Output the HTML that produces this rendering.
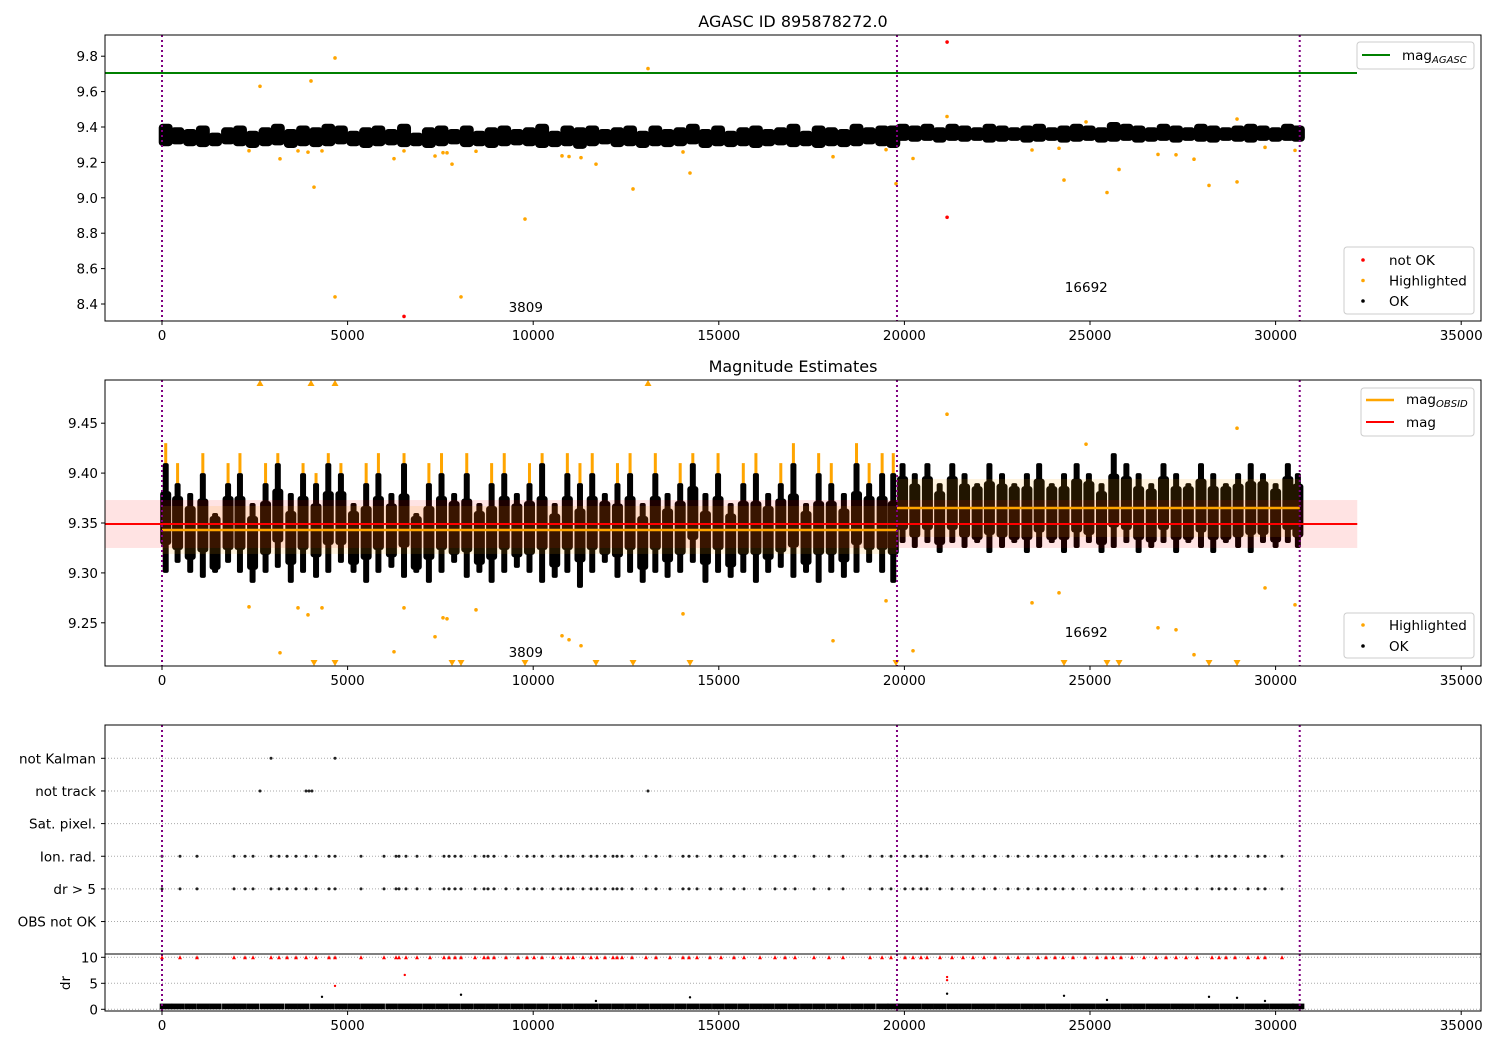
<!DOCTYPE html>
<html><head><meta charset="utf-8"><style>
body{margin:0;background:#fff}
svg text{font-family:"DejaVu Sans","Liberation Sans",sans-serif;fill:#000}
</style></head><body>
<svg id="c" width="1500" height="1050" xmlns="http://www.w3.org/2000/svg"></svg>
<script>
// ---- data ----
const obsX=[100,420,760,1100,1430,1780,2100,2440,2790,3120,3470,3800,4150,4480,4820,5160,5500,5830,6180,6520,6850,7190,7530,7870,8210,8550,8880,9220,9560,9900,10240,10580,10920,11260,11590,11930,12270,12610,12950,13290,13620,13960,14300,14640,14980,15320,15660,16000,16330,16670,17010,17350,17690,18030,18370,18710,19050,19400,19700,
19950,20280,20620,20950,21290,21620,21960,22290,22630,22960,23300,23630,23970,24300,24640,24970,25310,25640,25980,26310,26650,26980,27320,27650,27990,28320,28660,28990,29330,29660,30000,30330,30600];
const obsHi=[9.41,9.39,9.38,9.40,9.36,9.39,9.40,9.37,9.39,9.41,9.38,9.40,9.39,9.41,9.40,9.37,9.39,9.40,9.38,9.41,9.36,9.39,9.40,9.38,9.40,9.37,9.39,9.40,9.38,9.39,9.41,9.37,9.40,9.39,9.40,9.38,9.39,9.40,9.37,9.40,9.38,9.39,9.41,9.38,9.40,9.37,9.39,9.40,9.38,9.39,9.41,9.37,9.40,9.39,9.38,9.41,9.39,9.40,9.40,
9.41,9.40,9.41,9.39,9.41,9.40,9.39,9.41,9.40,9.39,9.40,9.41,9.39,9.40,9.41,9.40,9.39,9.42,9.41,9.40,9.39,9.41,9.40,9.39,9.41,9.40,9.39,9.40,9.41,9.40,9.39,9.41,9.40];
const obsLo=[9.30,9.31,9.30,9.295,9.30,9.31,9.30,9.29,9.30,9.305,9.29,9.30,9.295,9.30,9.31,9.30,9.29,9.30,9.305,9.295,9.30,9.29,9.30,9.31,9.295,9.30,9.29,9.30,9.305,9.30,9.29,9.295,9.30,9.285,9.30,9.31,9.295,9.30,9.29,9.30,9.295,9.30,9.31,9.29,9.30,9.295,9.30,9.29,9.30,9.305,9.295,9.30,9.29,9.30,9.295,9.30,9.31,9.30,9.29,
9.33,9.325,9.33,9.32,9.33,9.325,9.33,9.32,9.325,9.33,9.32,9.325,9.33,9.32,9.325,9.33,9.32,9.325,9.33,9.32,9.325,9.33,9.32,9.33,9.325,9.32,9.33,9.325,9.32,9.33,9.325,9.33,9.325];
const hlTop=[9.43,9.41,0,9.42,0,9.41,9.42,0,9.41,9.42,0,9.41,9.40,9.42,9.41,0,9.41,9.42,0,9.42,0,9.41,9.42,0,9.42,0,9.41,9.42,0,9.41,9.42,0,9.42,9.41,9.42,0,9.41,9.42,0,9.42,0,9.41,9.42,0,9.42,0,9.41,9.42,0,9.41,9.43,0,9.42,9.41,0,9.43,9.41,9.42,9.42];
const hlX=[2344,3179,3664,3933,4310,6250,6519,7355,7570,7678,8459,10776,10965,11288,14036,18077,19505,20232,23438,24165,26832,27317,27802,29715,30523,21148,24893,28961,2640,4014,4661,13093,4095,4661,7813,8055,9779,11692,12689,14224,19774,24300,25458,25782,28206,28961];
const hlMag=[9.266,9.220,9.265,9.258,9.265,9.221,9.265,9.236,9.255,9.254,9.263,9.237,9.233,9.227,9.259,9.232,9.272,9.222,9.270,9.280,9.245,9.243,9.218,9.285,9.268,9.459,9.429,9.445,9.63,9.66,9.79,9.73,9.06,8.44,9.19,8.44,8.88,9.19,9.05,9.14,9.08,9.10,9.03,9.16,9.07,9.09];
const badX=[21150,21150,6520];
const badMag=[9.88,8.89,8.33];
const segStart=[0,19800];
const segEnd=[19800,30650];
const segMag=[9.343,9.365];
const segStd=[0.024,0.029];
const magAll=9.349, magStd=0.024, magAgasc=9.705;
const flagNames=["not Kalman","not track","Sat. pixel.","Ion. rad.","dr > 5","OBS not OK"];
const notKalmanX=[2937,4661];
const notTrackX=[2640,3880,3960,4040,13093];
const ionX=[0,485,943,1940,2236,2452,2937,3152,3368,3610,3880,4149,4499,4661,5361,5981,6304,6385,6573,6870,7220,7597,7732,7893,8055,8432,8675,8782,8944,9267,9591,9833,10022,10237,10533,10749,10937,11072,11341,11557,11719,11934,12150,12258,12392,12662,13039,13308,13685,14035,14197,14413,14763,15059,15409,15679,16110,16514,16784,17053,17565,17969,18346,19074,19397,19639,20016,20232,20447,20609,20959,21283,21579,21848,22145,22441,22791,23061,23330,23599,23815,24057,24273,24542,24866,25189,25431,25620,25835,26131,26455,26778,27048,27317,27587,27883,28287,28476,28664,28906,29257,29526,29714,30172];
const drOutX=[4310,8055,11690,14224,21150,24300,25458,28206,28961,29714];
const drOutV=[2.4,2.8,1.6,2.3,3.0,2.6,1.8,2.4,2.2,1.6];
const drRedX=[4661,6540,21150,21150];
const drRedV=[4.5,6.6,5.6,6.2];
const drTypical=1.1;
const xTicks=[0,5000,10000,15000,20000,25000,30000,35000];
const y1Ticks=[8.4,8.6,8.8,9.0,9.2,9.4,9.6,9.8];
const y2Ticks=[9.25,9.30,9.35,9.40,9.45];
const drTicks=[0,5,10];
const annX=[9800,24900], annText=["3809","16692"];

// ---- scales ----
const L=105,R=1481;
const xs=u=>162+u*185.6/5000;
const y1=m=>127-(m-9.4)*177;
const y2=m=>523-(m-9.35)*998;
const yf=i=>758.3+i*32.65;
const yd=v=>1009.3-v*5.2;
const svg=document.getElementById('c');
const NS="http://www.w3.org/2000/svg";
function mk(tag,at,parent){const e=document.createElementNS(NS,tag);for(const k in at)e.setAttribute(k,at[k]);(parent||svg).appendChild(e);return e;}
function txt(x,y,s,size,anchor,parent){const t=mk('text',{x:x,y:y,'font-size':size||13.5,'text-anchor':anchor||'middle'},parent);t.textContent=s;return t;}
function clip(id,t,b){const d=mk('defs',{});const c=mk('clipPath',{id:id},d);mk('rect',{x:L,y:t,width:R-L,height:b-t},c);}
clip('c1',35,321);clip('c2',380,666);clip('c3',725,954);clip('c4',954,1011);

function xAxis(by,g){for(const v of xTicks){const x=xs(v);mk('line',{x1:x,x2:x,y1:by,y2:by+4,stroke:'#000'},g);const t=txt(x,by+19,String(v),13.5,'middle',g);}}
function vlines(t,b,g){for(const v of [0,segEnd[0],segEnd[1]]){mk('line',{x1:xs(v),x2:xs(v),y1:t,y2:b,stroke:'purple','stroke-width':2,'stroke-dasharray':'2,3'},g);}}

// ===== Panel 1 =====
const p1=mk('g',{});
const t1=txt(793,27,'AGASC ID 895878272.0',16,'middle',p1);
const d1=mk('g',{'clip-path':'url(#c1)'},p1);
mk('line',{x1:L,x2:1357,y1:y1(magAgasc),y2:y1(magAgasc),stroke:'green','stroke-width':2},d1);
obsX.forEach((u,i)=>{const r=mk('rect',{x:xs(u)-7,y:y1(obsHi[i])-1.5,width:14,height:y1(obsLo[i])-y1(obsHi[i])+3,rx:4,fill:'#000'},d1);});
hlX.forEach((u,i)=>{const c=mk('circle',{cx:xs(u),cy:y1(hlMag[i]),r:1.8,fill:'orange'},d1);});
badX.forEach((u,i)=>{const c=mk('circle',{cx:xs(u),cy:y1(badMag[i]),r:1.8,fill:'red'},d1);});
vlines(35,321,d1);
annX.forEach((u,i)=>{txt(xs(u),312-(i?20:0),annText[i],13.5,'middle',d1);});
mk('rect',{x:L,y:35,width:R-L,height:286,fill:'none',stroke:'#000'},p1);
for(const v of y1Ticks){const y=y1(v);mk('line',{x1:L-4,x2:L,y1:y,y2:y,stroke:'#000'},p1);txt(L-7,y+5,v.toFixed(1),13.5,'end',p1);}
xAxis(321,p1);
const lg1=mk('g',{},p1);
mk('rect',{x:1357,y:42,width:117,height:27,rx:3,fill:'#fff',stroke:'#ccc'},lg1);
mk('line',{x1:1362,x2:1390,y1:55,y2:55,stroke:'green','stroke-width':2},lg1);
const lt=txt(1402,60,'mag',13.5,'start',lg1);const ts=mk('tspan',{'font-size':10,'font-style':'italic',dy:3},lt);ts.textContent='AGASC';
const lg2=mk('g',{},p1);
mk('rect',{x:1344,y:247,width:130,height:67,rx:3,fill:'#fff',stroke:'#ccc'},lg2);
[['red','not OK'],['orange','Highlighted'],['#000','OK']].forEach((e,i)=>{mk('circle',{cx:1363,cy:260+i*20.5,r:1.8,fill:e[0]},lg2);txt(1389,265+i*20.5,e[1],13.5,'start',lg2);});

// ===== Panel 2 =====
const p2=mk('g',{});
const t2=txt(793,372,'Magnitude Estimates',16,'middle',p2);
const d2=mk('g',{'clip-path':'url(#c2)'},p2);
obsX.forEach((u,i)=>{const x=xs(u);
  if(hlTop[i]){const o=mk('rect',{x:x-1.5,y:y2(hlTop[i]),width:3,height:y2(obsHi[i])-y2(hlTop[i])+2,fill:'orange'},d2);}
  const r=mk('rect',{x:x-3,y:y2(obsHi[i]),width:6,height:y2(obsLo[i])-y2(obsHi[i]),rx:2,fill:'#000'},d2);
  
  const mid=(obsHi[i]+obsLo[i])/2;
  mk('rect',{x:x-5.5,y:y2(mid+0.027),width:11,height:y2(mid-0.027)-y2(mid+0.027),rx:3,fill:'#000'},d2);
});
mk('rect',{x:L,y:y2(magAll+magStd),width:xs(32200)-L,height:y2(magAll-magStd)-y2(magAll+magStd),fill:'rgba(255,0,0,0.11)'},d2);
segStart.forEach((s,i)=>{mk('rect',{x:xs(s),y:y2(segMag[i]+segStd[i]),width:xs(segEnd[i])-xs(s),height:y2(segMag[i]-segStd[i])-y2(segMag[i]+segStd[i]),fill:'rgba(255,165,0,0.13)'},d2);});
mk('line',{x1:L,x2:xs(32200),y1:y2(magAll),y2:y2(magAll),stroke:'red','stroke-width':2},d2);
segStart.forEach((s,i)=>{const l=mk('line',{x1:xs(s),x2:xs(segEnd[i]),y1:y2(segMag[i]),y2:y2(segMag[i]),stroke:'orange','stroke-width':2.5},d2);});
const lo2=9.205,hi2=9.49;
hlX.forEach((u,i)=>{const m=hlMag[i],x=xs(u);let e;
  if(m<lo2){e=mk('path',{d:`M${x-3.5},660 L${x+3.5},660 L${x},666 Z`,fill:'orange'},d2);}
  else if(m>hi2){e=mk('path',{d:`M${x-3.5},386 L${x+3.5},386 L${x},380 Z`,fill:'orange'},d2);}
  else e=mk('circle',{cx:x,cy:y2(m),r:1.8,fill:'orange'},d2);
  });
vlines(380,666,d2);
annX.forEach((u,i)=>{txt(xs(u),657-(i?20:0),annText[i],13.5,'middle',d2);});
mk('rect',{x:L,y:380,width:R-L,height:286,fill:'none',stroke:'#000'},p2);
for(const v of y2Ticks){const y=y2(v);mk('line',{x1:L-4,x2:L,y1:y,y2:y,stroke:'#000'},p2);txt(L-7,y+5,v.toFixed(2),13.5,'end',p2);}
xAxis(666,p2);
const lg3=mk('g',{},p2);
mk('rect',{x:1361,y:388,width:113,height:48,rx:3,fill:'#fff',stroke:'#ccc'},lg3);
mk('line',{x1:1366,x2:1394,y1:400,y2:400,stroke:'orange','stroke-width':2.5},lg3);
const lt2=txt(1406,404,'mag',13.5,'start',lg3);const ts2=mk('tspan',{'font-size':10,'font-style':'italic',dy:3},lt2);ts2.textContent='OBSID';
mk('line',{x1:1366,x2:1394,y1:422,y2:422,stroke:'red','stroke-width':2},lg3);txt(1406,427,'mag',13.5,'start',lg3);
const lg4=mk('g',{},p2);
mk('rect',{x:1344,y:613,width:130,height:45,rx:3,fill:'#fff',stroke:'#ccc'},lg4);
[['orange','Highlighted'],['#000','OK']].forEach((e,i)=>{mk('circle',{cx:1363,cy:625+i*21,r:1.8,fill:e[0]},lg4);txt(1389,630+i*21,e[1],13.5,'start',lg4);});

// ===== Panel 3: flags =====
const p3=mk('g',{});
const d3=mk('g',{'clip-path':'url(#c3)'},p3);
flagNames.forEach((n,i)=>{mk('line',{x1:L,x2:R,y1:yf(i),y2:yf(i),stroke:'#aaa','stroke-dasharray':'1,2'},d3);const t=txt(96,yf(i)+5,n,13.5,'end',p3);mk('line',{x1:L-4,x2:L,y1:yf(i),y2:yf(i),stroke:'#000'},p3);});
function flagPts(arr,row){arr.forEach(u=>{const c=mk('circle',{cx:xs(u),cy:yf(row),r:1.5,fill:'#222'},d3);});}
flagPts(notKalmanX,0);flagPts(notTrackX,1);flagPts(ionX,3);flagPts(ionX,4);
vlines(725,954,d3);
mk('rect',{x:L,y:725,width:R-L,height:229,fill:'none',stroke:'#000'},p3);

// ===== Panel 4: dr =====
const p4=mk('g',{});
const d4=mk('g',{'clip-path':'url(#c4)'},p4);
for(const v of drTicks){mk('line',{x1:L,x2:R,y1:yd(v),y2:yd(v),stroke:'#aaa','stroke-dasharray':'1,2'},d4);}
obsX.forEach(u=>{mk('rect',{x:xs(u)-6,y:yd(drTypical),width:12.5,height:yd(0)-yd(drTypical),fill:'#000'},d4);});
drOutX.forEach((u,i)=>{mk('circle',{cx:xs(u),cy:yd(drOutV[i]),r:1.2,fill:'#000'},d4);});
drRedX.forEach((u,i)=>{mk('circle',{cx:xs(u),cy:yd(drRedV[i]),r:1.2,fill:'red'},d4);});
ionX.forEach(u=>{const x=xs(u),y=yd(10);const e=mk('path',{d:`M${x-2},${y+2} L${x+2},${y+2} L${x},${y-2} Z`,fill:'red'},d4);});
vlines(954,1011,d4);
mk('rect',{x:L,y:954,width:R-L,height:57,fill:'none',stroke:'#000'},p4);
for(const v of drTicks){const y=yd(v);mk('line',{x1:L-4,x2:L,y1:y,y2:y,stroke:'#000'},p4);txt(L-7,y+5,String(v),13.5,'end',p4);}
const dl=txt(70,983,'dr',13.5,'middle',p4);dl.setAttribute('transform','rotate(-90 70 983)');
xAxis(1011,p4);
</script>
</body></html>
